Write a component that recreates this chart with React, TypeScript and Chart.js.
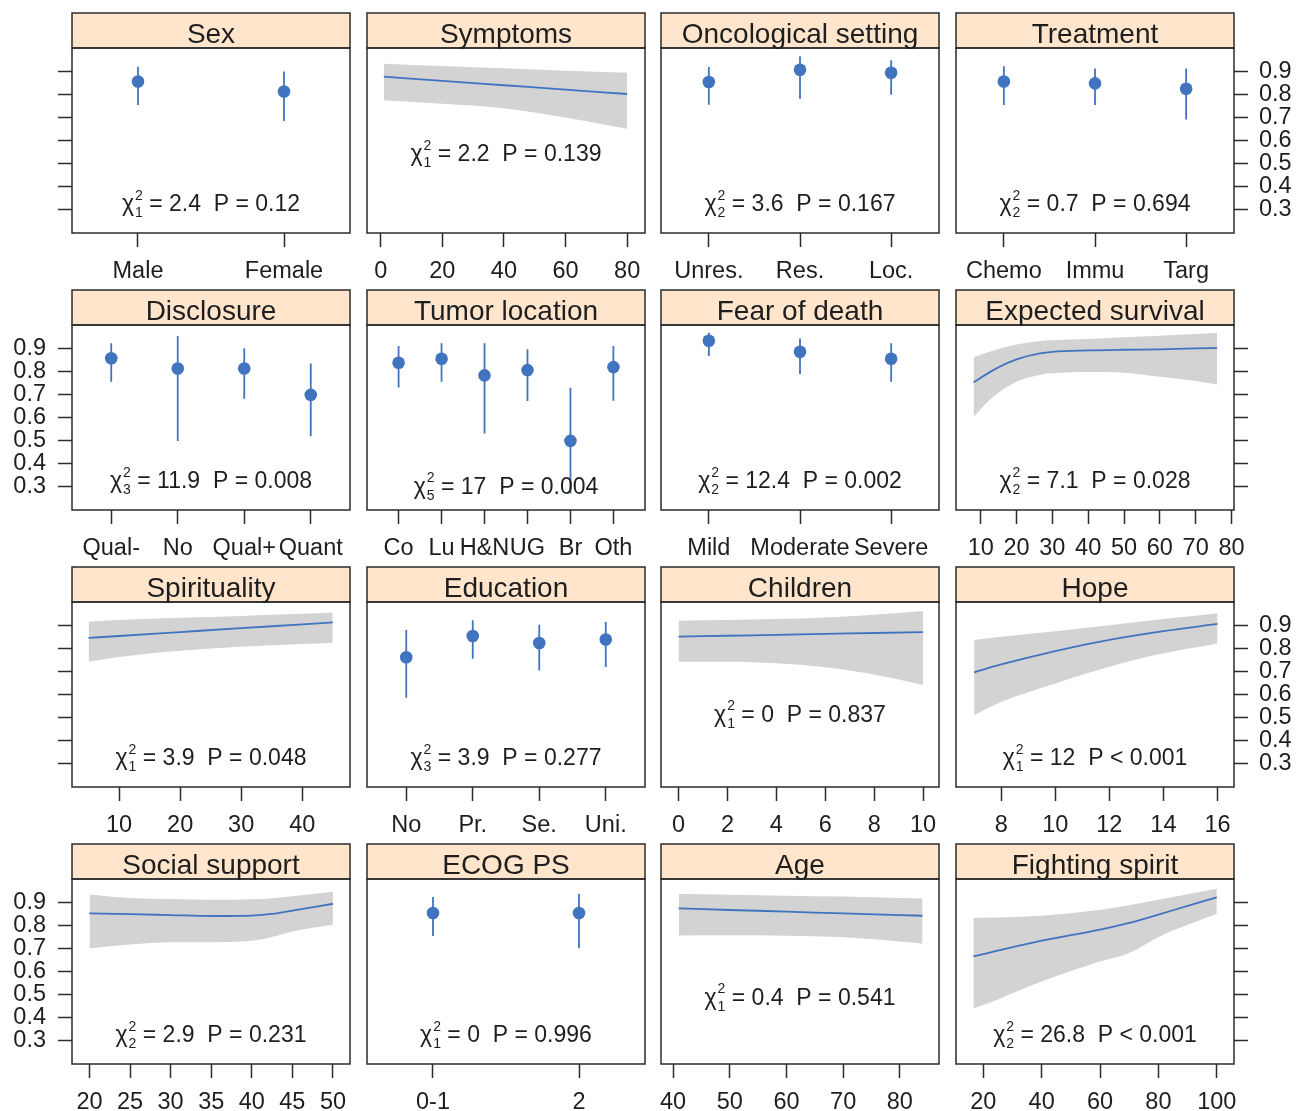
import React, { useEffect, useRef } from "react";
import { Chart, registerables } from "chart.js";

Chart.register(...registerables);

const FONT = '"Liberation Sans", Arial, Helvetica, sans-serif';
const BLUE = "#4174BF";
const BAND = "#D3D3D3";
const INK = "#2b2b2b";
const TEXT = "#1e1e1e";
const STRIP = "#FFE5CC";

// ---------- data ----------
const yTickValues = [0.3, 0.4, 0.5, 0.6, 0.7, 0.8, 0.9];

const sexLevels = ["Male", "Female"];
const sexEst = [0.855, 0.812];
const sexLower = [0.753, 0.684];
const sexUpper = [0.919, 0.898];

const symptomsX = [1, 20, 40, 60, 80];
const symptomsTicks = [0, 20, 40, 60, 80];
const symptomsEst = [0.876, 0.858, 0.839, 0.82, 0.801];
const symptomsLower = [0.774, 0.759, 0.74, 0.7, 0.651];
const symptomsUpper = [0.932, 0.922, 0.912, 0.902, 0.893];

const oncLevels = ["Unres.", "Res.", "Loc."];
const oncEst = [0.853, 0.906, 0.893];
const oncLower = [0.755, 0.781, 0.798];
const oncUpper = [0.918, 0.964, 0.947];

const treatLevels = ["Chemo", "Immu", "Targ"];
const treatEst = [0.855, 0.847, 0.824];
const treatLower = [0.753, 0.753, 0.691];
const treatUpper = [0.921, 0.911, 0.911];

const discLevels = ["Qual-", "No", "Qual+", "Quant"];
const discEst = [0.856, 0.812, 0.812, 0.698];
const discLower = [0.755, 0.498, 0.681, 0.519];
const discUpper = [0.921, 0.952, 0.899, 0.834];

const tumorLevels = ["Co", "Lu", "H&N", "UG", "Br", "Oth"];
const tumorEst = [0.837, 0.854, 0.782, 0.805, 0.499, 0.818];
const tumorLower = [0.73, 0.755, 0.531, 0.671, 0.271, 0.672];
const tumorUpper = [0.909, 0.921, 0.921, 0.895, 0.729, 0.909];

const fearLevels = ["Mild", "Moderate", "Severe"];
const fearEst = [0.932, 0.884, 0.854];
const fearLower = [0.866, 0.788, 0.755];
const fearUpper = [0.967, 0.942, 0.921];

const survX = [8, 13.5, 20, 26.5, 30, 40, 50, 60, 70, 76];
const survTicks = [10, 20, 30, 40, 50, 60, 70, 80];
const survEst = [0.752, 0.805, 0.851, 0.877, 0.884, 0.89, 0.893, 0.895, 0.899, 0.9];
const survLower = [0.603, 0.69, 0.755, 0.784, 0.791, 0.797, 0.794, 0.776, 0.758, 0.743];
const survUpper = [0.86, 0.89, 0.916, 0.931, 0.934, 0.939, 0.947, 0.954, 0.961, 0.965];

const spirX = [5, 10, 20, 30, 40, 45];
const spirTicks = [10, 20, 30, 40];
const spirEst = [0.845, 0.853, 0.87, 0.887, 0.903, 0.912];
const spirLower = [0.742, 0.762, 0.789, 0.806, 0.818, 0.824];
const spirUpper = [0.915, 0.922, 0.932, 0.94, 0.949, 0.955];

const eduLevels = ["No", "Pr.", "Se.", "Uni."];
const eduEst = [0.761, 0.853, 0.823, 0.838];
const eduLower = [0.586, 0.755, 0.704, 0.719];
const eduUpper = [0.879, 0.921, 0.902, 0.913];

const childX = [0, 2, 4, 6, 8, 10];
const childTicks = [0, 2, 4, 6, 8, 10];
const childEst = [0.85, 0.854, 0.858, 0.862, 0.866, 0.87];
const childLower = [0.742, 0.742, 0.735, 0.718, 0.686, 0.641];
const childUpper = [0.919, 0.922, 0.926, 0.933, 0.945, 0.961];

const hopeX = [7, 8, 10, 12, 14, 16];
const hopeTicks = [8, 10, 12, 14, 16];
const hopeEst = [0.696, 0.73, 0.788, 0.836, 0.874, 0.905];
const hopeLower = [0.511, 0.568, 0.648, 0.72, 0.778, 0.821];
const hopeUpper = [0.836, 0.85, 0.874, 0.9, 0.926, 0.951];

const socialX = [20, 25, 30, 35, 40, 42.5, 45, 50];
const socialTicks = [20, 25, 30, 35, 40, 45, 50];
const socialEst = [0.851, 0.848, 0.844, 0.84, 0.842, 0.849, 0.863, 0.893];
const socialLower = [0.7, 0.717, 0.727, 0.727, 0.733, 0.749, 0.773, 0.802];
const socialUpper = [0.933, 0.918, 0.913, 0.91, 0.912, 0.917, 0.925, 0.945];

const ecogLevels = ["0-1", "2"];
const ecogEst = [0.853, 0.853];
const ecogLower = [0.753, 0.701];
const ecogUpper = [0.922, 0.936];

const ageX = [41, 50, 60, 70, 80, 84];
const ageTicks = [40, 50, 60, 70, 80];
const ageEst = [0.873, 0.866, 0.859, 0.851, 0.844, 0.841];
const ageLower = [0.756, 0.757, 0.755, 0.748, 0.73, 0.72];
const ageUpper = [0.935, 0.932, 0.928, 0.924, 0.918, 0.916];

const fightX = [16.6, 20, 40, 60, 70, 80, 90, 100];
const fightTicks = [20, 40, 60, 80, 100];
const fightEst = [0.665, 0.675, 0.733, 0.781, 0.81, 0.846, 0.884, 0.921];
const fightLower = [0.441, 0.455, 0.557, 0.643, 0.68, 0.749, 0.802, 0.85];
const fightUpper = [0.831, 0.832, 0.841, 0.867, 0.887, 0.91, 0.934, 0.958];

// ---------- panel specs ----------
type Spec = {
  title: string;
  levels?: string[];
  x?: number[];
  ticks?: number[];
  est: number[];
  lower: number[];
  upper: number[];
  xMin?: number;
  xMax?: number;
  df: number;
  chi: string;
  p: string;
  labelY: number;
};

const STD_LABEL_Y = 0.295;

const panels: Spec[] = [
  { title: "Sex", levels: sexLevels, est: sexEst, lower: sexLower, upper: sexUpper, df: 1, chi: "2.4", p: "= 0.12", labelY: STD_LABEL_Y },
  { title: "Symptoms", x: symptomsX, ticks: symptomsTicks, est: symptomsEst, lower: symptomsLower, upper: symptomsUpper, xMin: -4.45, xMax: 85.8, df: 1, chi: "2.2", p: "= 0.139", labelY: 0.511 },
  { title: "Oncological setting", levels: oncLevels, est: oncEst, lower: oncLower, upper: oncUpper, df: 2, chi: "3.6", p: "= 0.167", labelY: STD_LABEL_Y },
  { title: "Treatment", levels: treatLevels, est: treatEst, lower: treatLower, upper: treatUpper, df: 2, chi: "0.7", p: "= 0.694", labelY: STD_LABEL_Y },
  { title: "Disclosure", levels: discLevels, est: discEst, lower: discLower, upper: discUpper, df: 3, chi: "11.9", p: "= 0.008", labelY: STD_LABEL_Y },
  { title: "Tumor location", levels: tumorLevels, est: tumorEst, lower: tumorLower, upper: tumorUpper, df: 5, chi: "17", p: "= 0.004", labelY: 0.271 },
  { title: "Fear of death", levels: fearLevels, est: fearEst, lower: fearLower, upper: fearUpper, df: 2, chi: "12.4", p: "= 0.002", labelY: STD_LABEL_Y },
  { title: "Expected survival", x: survX, ticks: survTicks, est: survEst, lower: survLower, upper: survUpper, xMin: 3.1, xMax: 80.7, df: 2, chi: "7.1", p: "= 0.028", labelY: STD_LABEL_Y },
  { title: "Spirituality", x: spirX, ticks: spirTicks, est: spirEst, lower: spirLower, upper: spirUpper, xMin: 2.28, xMax: 47.83, df: 1, chi: "3.9", p: "= 0.048", labelY: STD_LABEL_Y },
  { title: "Education", levels: eduLevels, est: eduEst, lower: eduLower, upper: eduUpper, df: 3, chi: "3.9", p: "= 0.277", labelY: STD_LABEL_Y },
  { title: "Children", x: childX, ticks: childTicks, est: childEst, lower: childLower, upper: childUpper, xMin: -0.72, xMax: 10.65, df: 1, chi: "0", p: "= 0.837", labelY: 0.483 },
  { title: "Hope", x: hopeX, ticks: hopeTicks, est: hopeEst, lower: hopeLower, upper: hopeUpper, xMin: 6.33, xMax: 16.61, df: 1, chi: "12", p: "< 0.001", labelY: STD_LABEL_Y },
  { title: "Social support", x: socialX, ticks: socialTicks, est: socialEst, lower: socialLower, upper: socialUpper, xMin: 17.85, xMax: 52.1, df: 2, chi: "2.9", p: "= 0.231", labelY: STD_LABEL_Y },
  { title: "ECOG PS", levels: ecogLevels, est: ecogEst, lower: ecogLower, upper: ecogUpper, df: 1, chi: "0", p: "= 0.996", labelY: STD_LABEL_Y },
  { title: "Age", x: ageX, ticks: ageTicks, est: ageEst, lower: ageLower, upper: ageUpper, xMin: 37.88, xMax: 86.9, df: 1, chi: "0.4", p: "= 0.541", labelY: 0.457 },
  { title: "Fighting spirit", x: fightX, ticks: fightTicks, est: fightEst, lower: fightLower, upper: fightUpper, xMin: 10.64, xMax: 105.9, df: 2, chi: "26.8", p: "< 0.001", labelY: STD_LABEL_Y },
];

// padding (in category units) that the factor axes get on each side
const FACTOR_PAD: Record<number, number> = { 2: 0.452, 3: 0.525, 4: 0.59, 5: 0.66, 6: 0.735 };

// ---------- layout ----------
const COL_LEFT = [72, 367, 661, 956];
const ROW_TOP = [13, 290, 567, 844];
const PW = 278;
const STRIP_H = 35;
const PH = 185;
const PADL = 72;
const PADR = 62;
const CANVAS_H = 292;
const CANVAS_W = PW + PADL + PADR;
const TICK_FONT = 23.5;

function drawStat(ctx: CanvasRenderingContext2D, cx: number, yb: number, s: Spec) {
  const big = `23px ${FONT}`;
  const small = `14px ${FONT}`;
  ctx.font = big;
  const wChi = ctx.measureText("χ").width;
  const rest = ` = ${s.chi}  P ${s.p}`;
  const wRest = ctx.measureText(rest).width;
  ctx.font = small;
  const wSc = Math.max(ctx.measureText("2").width, ctx.measureText(String(s.df)).width);
  const total = wChi + 1 + wSc + wRest;
  let x = cx - total / 2;
  ctx.textAlign = "left";
  ctx.textBaseline = "alphabetic";
  ctx.fillStyle = TEXT;
  ctx.font = big;
  ctx.fillText("χ", x, yb);
  x += wChi + 1;
  ctx.font = small;
  ctx.fillText("2", x, yb - 11.5);
  ctx.fillText(String(s.df), x, yb + 6.3);
  x += wSc;
  ctx.font = big;
  ctx.fillText(rest, x, yb);
}

// Chart.js draws the first dataset on top, so the marks come first.
function buildDatasets(s: Spec): any[] {
  if (s.levels) {
    const bars: any[] = [];
    s.levels.forEach((_, i) => {
      bars.push({ x: i + 1, y: s.lower[i] }, { x: i + 1, y: s.upper[i] }, { x: i + 1, y: null });
    });
    return [
      {
        data: s.est.map((v, i) => ({ x: i + 1, y: v })),
        showLine: false,
        pointRadius: 6.3,
        pointBackgroundColor: BLUE,
        pointBorderColor: BLUE,
        pointBorderWidth: 0,
        fill: false,
      },
      { data: bars, borderColor: BLUE, borderWidth: 1.8, pointRadius: 0, spanGaps: false, fill: false },
    ];
  }
  const xs = s.x as number[];
  const none = "rgba(0,0,0,0)";
  return [
    {
      data: xs.map((x, i) => ({ x, y: s.est[i] })),
      borderColor: BLUE,
      borderWidth: 1.8,
      pointRadius: 0,
      fill: false,
      cubicInterpolationMode: "monotone",
    },
    {
      data: xs.map((x, i) => ({ x, y: s.upper[i] })),
      borderColor: none,
      borderWidth: 0,
      pointRadius: 0,
      fill: "+1",
      backgroundColor: BAND,
      cubicInterpolationMode: "monotone",
    },
    {
      data: xs.map((x, i) => ({ x, y: s.lower[i] })),
      borderColor: none,
      borderWidth: 0,
      pointRadius: 0,
      fill: false,
      cubicInterpolationMode: "monotone",
    },
  ];
}

function PanelChart({ spec, row, col }: { spec: Spec; row: number; col: number }) {
  const ref = useRef<HTMLCanvasElement | null>(null);

  useEffect(() => {
    if (!ref.current) return;
    const isCat = !!spec.levels;
    const n = spec.levels ? spec.levels.length : 0;
    const pad = isCat ? FACTOR_PAD[n] ?? 0.6 : 0;
    const xMin = isCat ? 1 - pad : (spec.xMin as number);
    const xMax = isCat ? n + pad : (spec.xMax as number);
    const xTicks = isCat ? spec.levels!.map((_, i) => i + 1) : (spec.ticks as number[]);
    const yShown = col === 0 || col === 3;
    const yLabels = (col === 0 && row % 2 === 1) || (col === 3 && row % 2 === 0);

    const gridOpts = {
      drawOnChartArea: false,
      drawTicks: true,
      tickLength: 14,
      tickColor: INK,
      tickWidth: 1.5,
    };

    const decor = {
      id: "decor",
      afterDraw(chart: any) {
        const ctx: CanvasRenderingContext2D = chart.ctx;
        const a = chart.chartArea;
        const w = a.right - a.left;
        ctx.save();
        ctx.fillStyle = STRIP;
        ctx.fillRect(a.left, a.top - STRIP_H, w, STRIP_H);
        ctx.strokeStyle = INK;
        ctx.lineWidth = 1.5;
        ctx.strokeRect(a.left, a.top - STRIP_H, w, STRIP_H);
        ctx.strokeRect(a.left, a.top, w, a.bottom - a.top);
        ctx.fillStyle = TEXT;
        ctx.font = `28px ${FONT}`;
        ctx.textAlign = "center";
        ctx.textBaseline = "alphabetic";
        ctx.fillText(spec.title, (a.left + a.right) / 2, a.top - 5.5);
        const yb = chart.scales.y.getPixelForValue(spec.labelY);
        drawStat(ctx, (a.left + a.right) / 2, yb, spec);
        ctx.restore();
      },
    };

    const chart = new Chart(ref.current, {
      type: "line",
      data: { datasets: buildDatasets(spec) },
      plugins: [decor],
      options: {
        animation: false,
        responsive: false,
        events: [],
        layout: {
          padding: {
            top: 13 + STRIP_H,
            bottom: 0,
            left: col === 0 ? 0 : PADL,
            right: col === 3 ? 0 : PADR,
          },
        },
        plugins: {
          legend: { display: false },
          tooltip: { enabled: false },
          title: { display: false },
        },
        scales: {
          x: {
            type: "linear",
            min: xMin,
            max: xMax,
            afterBuildTicks: (axis: any) => {
              axis.ticks = xTicks.map((v) => ({ value: v }));
            },
            afterFit: (axis: any) => {
              axis.height = CANVAS_H - 13 - STRIP_H - PH;
            },
            ticks: {
              autoSkip: false,
              maxRotation: 0,
              minRotation: 0,
              padding: 10,
              color: TEXT,
              font: { family: FONT, size: TICK_FONT },
              callback: (value: any, index: number) =>
                isCat ? spec.levels![index] : String(value),
            },
            grid: gridOpts,
            border: { display: false },
          },
          y: {
            type: "linear",
            position: col === 3 ? "right" : "left",
            display: yShown,
            min: 0.2,
            max: 1.0,
            afterBuildTicks: (axis: any) => {
              axis.ticks = yTickValues.map((v) => ({ value: v }));
            },
            afterFit: (axis: any) => {
              axis.width = yShown ? (col === 3 ? PADR : PADL) : 0;
            },
            ticks: {
              display: yLabels,
              autoSkip: false,
              padding: col === 3 ? 11 : 12,
              color: TEXT,
              font: { family: FONT, size: TICK_FONT, lineHeight: 1 },
              callback: (value: any) => Number(value).toFixed(1),
            },
            grid: gridOpts,
            border: { display: false },
          },
        },
      } as any,
    });
    return () => chart.destroy();
  }, [spec, row, col]);

  return (
    <canvas
      ref={ref}
      width={CANVAS_W}
      height={CANVAS_H}
      style={{
        position: "absolute",
        left: COL_LEFT[col] - PADL,
        top: ROW_TOP[row] - 13,
        width: CANVAS_W,
        height: CANVAS_H,
      }}
    />
  );
}

export default function App() {
  return (
    <div
      style={{
        position: "absolute",
        left: 0,
        top: 0,
        width: 1296,
        height: 1111,
        overflow: "hidden",
        background: "#ffffff",
      }}
    >
      {panels.map((p, i) => (
        <PanelChart key={p.title} spec={p} row={Math.floor(i / 4)} col={i % 4} />
      ))}
    </div>
  );
}
